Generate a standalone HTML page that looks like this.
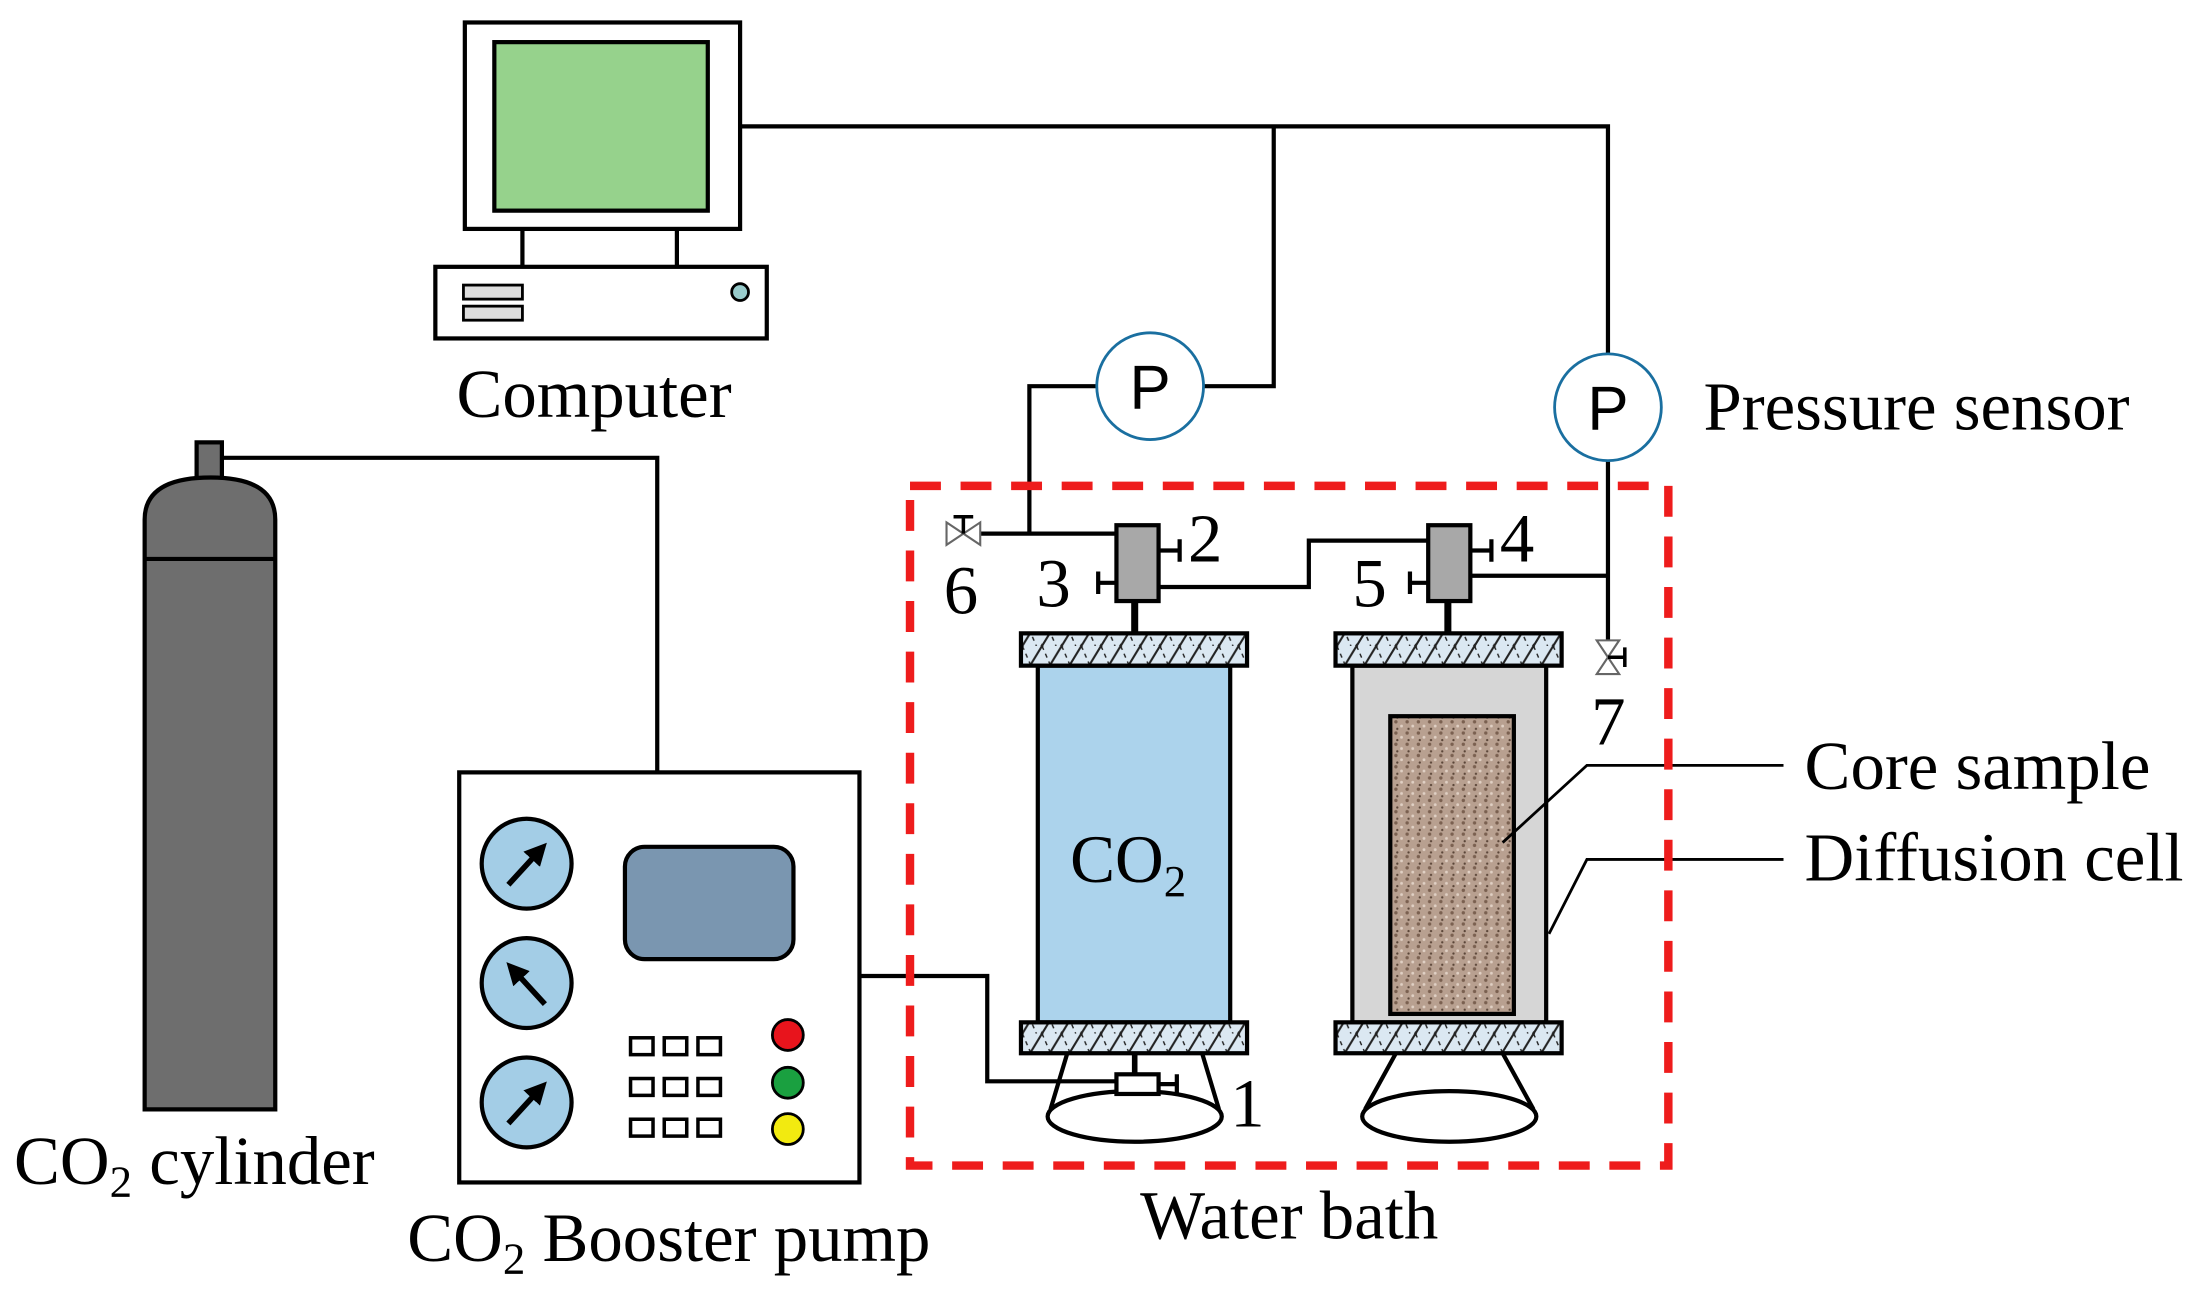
<!DOCTYPE html>
<html><head><meta charset="utf-8"><style>html,body{margin:0;padding:0;background:#fff}svg{display:block}</style></head>
<body>
<svg width="2202" height="1299" viewBox="0 0 1568 925" xmlns="http://www.w3.org/2000/svg" font-family="Liberation Serif, serif">
<defs>
<pattern id="h" width="14" height="23" patternUnits="userSpaceOnUse">
<rect width="14" height="23" fill="#dbe8f2"/>
<path d="M0 23 L14 0 M-7 12 L7 -11 M7 34 L21 11" stroke="#222" stroke-width="1.5"/>
<path d="M0 0 L10 23" stroke="#222" stroke-width="1" stroke-dasharray="3 3"/>
</pattern>
<pattern id="sp" width="8" height="8" patternUnits="userSpaceOnUse">
<rect width="8" height="8" fill="#b8a090"/>
<circle cx="2" cy="2" r="1.2" fill="#7a6050"/><circle cx="6" cy="5" r="1" fill="#e0d0c4"/><circle cx="3" cy="7" r="0.8" fill="#5a4538"/>
</pattern>
<marker id="ar" markerWidth="4" markerHeight="4" refX="2" refY="2" orient="auto"><path d="M0 0 L4 2 L0 4 Z" fill="#000"/></marker>
</defs>
<g stroke="#000" stroke-width="3" fill="none">
<rect x="331" y="16" width="196" height="147" fill="#fff"/>
<rect x="352" y="30" width="152" height="120" fill="#96d28c"/>
<line x1="372" y1="163" x2="372" y2="190"/><line x1="482" y1="163" x2="482" y2="190"/>
<rect x="310" y="190" width="236" height="51" fill="#fff"/>
<rect x="330" y="203" width="42" height="10" fill="#ddd" stroke-width="2"/>
<rect x="330" y="218" width="42" height="10" fill="#ddd" stroke-width="2"/>
<circle cx="527" cy="208" r="6" fill="#9cc" stroke-width="2"/>
<polyline points="527,90 1145,90 1145,252"/>
<polyline points="907,90 907,275 857,275"/>
<polyline points="781,275 733,275 733,380"/>
<line x1="1145" y1="328" x2="1145" y2="458"/>
<polyline points="468,550 468,326 158,326"/>
<polyline points="612,695 703,695 703,770 795,770"/>
<circle cx="819" cy="275" r="38" stroke="#1a6fa0" stroke-width="2" fill="#fff"/>
<circle cx="1145" cy="290" r="38" stroke="#1a6fa0" stroke-width="2" fill="#fff"/>
<line x1="698" y1="380" x2="795" y2="380"/>
<polyline points="825,418 932,418 932,385 1017,385"/>
<line x1="1047" y1="410" x2="1145" y2="410"/>
<rect x="795" y="374" width="30" height="54" fill="#a8a8a8"/>
<rect x="1017" y="374" width="30" height="54" fill="#a8a8a8"/>
<path d="M825 392 H840 M840 384 V400 M795 415 H782 M782 407 V423 M1047 392 H1062 M1062 384 V400 M1017 415 H1004 M1004 407 V423"/>
<line x1="808" y1="428" x2="808" y2="451" stroke-width="5"/>
<line x1="1031" y1="428" x2="1031" y2="451" stroke-width="5"/>
<path d="M674 372 L698 388 L698 372 L674 388 Z" stroke="#666" stroke-width="1.5" fill="#fff"/>
<path d="M686 380 V368 M679 368 H693" stroke-width="2.5"/>
<path d="M1137 456 L1153 480 L1137 480 L1153 456 Z" stroke="#666" stroke-width="1.5" fill="#fff"/>
<path d="M1145 468 H1157 M1157 461 V475" stroke-width="2.5"/>
<rect x="739" y="474" width="137" height="254" fill="#acd3ec"/>
<rect x="727" y="451" width="161" height="23" fill="url(#h)"/>
<rect x="727" y="728" width="161" height="22" fill="url(#h)"/>
<line x1="760" y1="750" x2="748" y2="790"/><line x1="856" y1="750" x2="868" y2="790"/>
<ellipse cx="808" cy="795" rx="62" ry="18"/>
<line x1="808" y1="750" x2="808" y2="765" stroke-width="4"/>
<rect x="795" y="765" width="30" height="14" fill="#fff"/>
<path d="M825 772 H838 M838 765 V779"/>
<rect x="963" y="474" width="138" height="254" fill="#d6d6d6"/>
<rect x="990" y="510" width="88" height="212" fill="url(#sp)"/>
<rect x="951" y="451" width="161" height="23" fill="url(#h)"/>
<rect x="951" y="728" width="161" height="22" fill="url(#h)"/>
<line x1="994" y1="750" x2="972" y2="790"/><line x1="1070" y1="750" x2="1092" y2="790"/>
<ellipse cx="1032" cy="795" rx="62" ry="18"/>
<polyline points="1070,600 1130,545 1270,545" stroke-width="2"/>
<polyline points="1103,665 1130,612 1270,612" stroke-width="2"/>
<rect x="140" y="315" width="18" height="26" fill="#6e6e6e"/>
<path d="M103 790 V370 Q103 340 150 340 Q196 340 196 370 V790 Z" fill="#6e6e6e"/>
<line x1="103" y1="398" x2="196" y2="398"/>
<rect x="327" y="550" width="285" height="292" fill="#fff"/>
<circle cx="375" cy="615" r="32" fill="#a3cde6"/>
<circle cx="375" cy="700" r="32" fill="#a3cde6"/>
<circle cx="375" cy="785" r="32" fill="#a3cde6"/>
<path d="M362 630 L384 606" stroke-width="4" marker-end="url(#ar)"/>
<path d="M388 715 L366 691" stroke-width="4" marker-end="url(#ar)"/>
<path d="M362 800 L384 776" stroke-width="4" marker-end="url(#ar)"/>
<rect x="445" y="603" width="120" height="80" rx="14" fill="#7a96b0"/>
<g stroke-width="2.5" fill="#fff">
<rect x="449" y="739" width="16" height="12"/><rect x="473" y="739" width="16" height="12"/><rect x="497" y="739" width="16" height="12"/>
<rect x="449" y="768" width="16" height="12"/><rect x="473" y="768" width="16" height="12"/><rect x="497" y="768" width="16" height="12"/>
<rect x="449" y="797" width="16" height="12"/><rect x="473" y="797" width="16" height="12"/><rect x="497" y="797" width="16" height="12"/>
</g>
<circle cx="561" cy="737" r="11" fill="#e8141c" stroke-width="2"/>
<circle cx="561" cy="771" r="11" fill="#1aa040" stroke-width="2"/>
<circle cx="561" cy="804" r="11" fill="#f2ea10" stroke-width="2"/>
</g>
<rect x="648" y="346" width="540" height="484" fill="none" stroke="#ee1c1c" stroke-width="6" stroke-dasharray="22 14"/>
<g font-size="49" fill="#000">
<text x="423" y="297" text-anchor="middle">Computer</text>
<text x="1213" y="306">Pressure sensor</text>
<text x="1285" y="562">Core sample</text>
<text x="1285" y="627">Diffusion cell</text>
<text x="10" y="843">CO<tspan font-size="32" dy="9">2</tspan><tspan dy="-9"> cylinder</tspan></text>
<text x="290" y="898">CO<tspan font-size="32" dy="9">2</tspan><tspan dy="-9"> Booster pump</tspan></text>
<text x="918" y="882" text-anchor="middle">Water bath</text>
<text x="762" y="628" font-size="48">CO<tspan font-size="32" dy="10">2</tspan></text>
<text x="819" y="291" font-size="44" text-anchor="middle" font-family="Liberation Sans, sans-serif">P</text>
<text x="1145" y="306" font-size="44" text-anchor="middle" font-family="Liberation Sans, sans-serif">P</text>
<text x="672" y="437">6</text>
<text x="738" y="432">3</text>
<text x="846" y="400">2</text>
<text x="963" y="432">5</text>
<text x="1068" y="400">4</text>
<text x="1133" y="530">7</text>
<text x="876" y="802">1</text>
</g>
</svg>
</body></html>
